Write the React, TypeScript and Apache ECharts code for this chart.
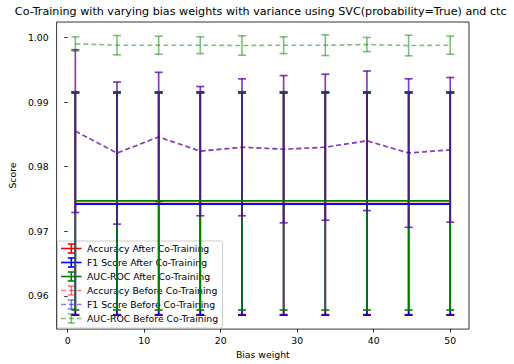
import React, { useEffect, useRef } from "react";
import * as echarts from "echarts";

const biasWeights = [1, 6.44, 11.89, 17.33, 22.78, 28.22, 33.67, 39.11, 44.56, 50];

const accuracyAfter = [0.9743, 0.9743, 0.9743, 0.9743, 0.9743, 0.9743, 0.9743, 0.9743, 0.9743, 0.9743];
const accuracyAfterErr = [0.0172, 0.0172, 0.0172, 0.0172, 0.0172, 0.0172, 0.0172, 0.0172, 0.0172, 0.0172];
const f1After = [0.9742, 0.9742, 0.9742, 0.9742, 0.9742, 0.9742, 0.9742, 0.9742, 0.9742, 0.9742];
const f1AfterErr = [0.0172, 0.0172, 0.0172, 0.0172, 0.0172, 0.0172, 0.0172, 0.0172, 0.0172, 0.0172];
const aucAfter = [0.9747, 0.9747, 0.9747, 0.9747, 0.9747, 0.9747, 0.9747, 0.9747, 0.9747, 0.9747];
const aucAfterErr = [0.0169, 0.0169, 0.0169, 0.0169, 0.0169, 0.0169, 0.0169, 0.0169, 0.0169, 0.0169];

const accuracyBefore = [0.9855, 0.9821, 0.9846, 0.9824, 0.983, 0.9827, 0.983, 0.984, 0.9821, 0.9826];
const accuracyBeforeErr = [0.0126, 0.011, 0.01, 0.01, 0.0106, 0.0114, 0.0113, 0.0108, 0.0115, 0.0112];
const f1Before = [0.9855, 0.9821, 0.9846, 0.9824, 0.983, 0.9827, 0.983, 0.984, 0.9821, 0.9826];
const f1BeforeErr = [0.0126, 0.011, 0.01, 0.01, 0.0106, 0.0114, 0.0113, 0.0108, 0.0115, 0.0112];
const aucBefore = [0.999, 0.9988, 0.9988, 0.9988, 0.99875, 0.9988, 0.9988, 0.9989, 0.99875, 0.9988];
const aucBeforeErr = [0.0011, 0.0015, 0.0014, 0.0013, 0.0015, 0.0013, 0.0016, 0.0011, 0.0016, 0.0014];

const xTicks = [0, 10, 20, 30, 40, 50];
const yTicks = [0.96, 0.97, 0.98, 0.99, 1.0];

const seriesNames = [
  "Accuracy After Co-Training",
  "F1 Score After Co-Training",
  "AUC-ROC After Co-Training",
  "Accuracy Before Co-Training",
  "F1 Score Before Co-Training",
  "AUC-ROC Before Co-Training",
];

const FONT = "DejaVu Sans";
const FS = 9.3;
const LW = 1.6;
const DASH = [5, 3];

type Spec = { name: string; means: number[]; errs: number[]; color: string; before: boolean };

const specs: Spec[] = [
  { name: seriesNames[0], means: accuracyAfter, errs: accuracyAfterErr, color: "#ff0000", before: false },
  { name: seriesNames[1], means: f1After, errs: f1AfterErr, color: "#0000ff", before: false },
  { name: seriesNames[2], means: aucAfter, errs: aucAfterErr, color: "#008000", before: false },
  { name: seriesNames[3], means: accuracyBefore, errs: accuracyBeforeErr, color: "#ff0000", before: true },
  { name: seriesNames[4], means: f1Before, errs: f1BeforeErr, color: "#0000ff", before: true },
  { name: seriesNames[5], means: aucBefore, errs: aucBeforeErr, color: "#008000", before: true },
];

function errorSeries(s: Spec) {
  const opacity = s.before ? 0.5 : 1;
  return {
    type: "custom",
    name: s.name + " err",
    silent: true,
    clip: false,
    z: 1,
    data: biasWeights.map((x, i) => [x, s.means[i] - s.errs[i], s.means[i] + s.errs[i]]),
    encode: { x: 0, y: [1, 2] },
    renderItem: (params: any, api: any) => {
      const x = api.value(0);
      const lo = api.coord([x, api.value(1)]);
      const hi = api.coord([x, api.value(2)]);
      const cw = 4;
      const style = { stroke: s.color, lineWidth: LW, fill: "none", opacity };
      return {
        type: "group",
        children: [
          { type: "line", shape: { x1: lo[0], y1: lo[1], x2: hi[0], y2: hi[1] }, style },
          { type: "line", shape: { x1: lo[0] - cw, y1: lo[1], x2: lo[0] + cw, y2: lo[1] }, style },
          { type: "line", shape: { x1: hi[0] - cw, y1: hi[1], x2: hi[0] + cw, y2: hi[1] }, style },
        ],
      };
    },
  };
}

function lineSeries(s: Spec) {
  return {
    type: "line",
    name: s.name,
    z: 2,
    symbol: "none",
    silent: true,
    data: biasWeights.map((x, i) => [x, s.means[i]]),
    lineStyle: {
      color: s.color,
      width: LW,
      type: s.before ? DASH : "solid",
      opacity: s.before ? 0.5 : 1,
    },
    itemStyle: { color: s.color },
  };
}

function legendGraphic() {
  const x0 = 57.5;
  const y0 = 241;
  const w = 165;
  const h = 87;
  const children: any[] = [
    {
      type: "rect",
      shape: { x: x0, y: y0, width: w, height: h, r: 2 },
      style: { fill: "rgba(255,255,255,0.8)", stroke: "#cccccc", lineWidth: 1 },
    },
  ];
  specs.forEach((s, i) => {
    const cy = 248.5 + i * 14;
    const opacity = s.before ? 0.5 : 1;
    const st = { stroke: s.color, lineWidth: LW, opacity, lineDash: s.before ? DASH : undefined };
    const stSolid = { stroke: s.color, lineWidth: LW, opacity };
    const hx1 = 61;
    const hx2 = 81.5;
    const mx = 71.3;
    children.push(
      { type: "line", shape: { x1: hx1, y1: cy, x2: hx2, y2: cy }, style: st },
      { type: "line", shape: { x1: mx, y1: cy - 4.5, x2: mx, y2: cy + 4.5 }, style: stSolid },
      { type: "line", shape: { x1: mx - 3.5, y1: cy - 4.5, x2: mx + 3.5, y2: cy - 4.5 }, style: stSolid },
      { type: "line", shape: { x1: mx - 3.5, y1: cy + 4.5, x2: mx + 3.5, y2: cy + 4.5 }, style: stSolid },
      {
        type: "text",
        x: 87,
        y: cy,
        style: {
          text: s.name,
          fill: "#000",
          font: `${FS}px "${FONT}"`,
          textVerticalAlign: "middle",
          textAlign: "left",
        },
      }
    );
  });
  return { type: "group", z: 100, children };
}

export default function App() {
  const ref = useRef<HTMLDivElement>(null);
  useEffect(() => {
    if (!ref.current) return;
    const chart = echarts.init(ref.current, undefined, { renderer: "svg" });
    const errs = specs.map((s) => errorSeries(s));
    const lines = specs.map((s) => lineSeries(s));
    chart.setOption({
      animation: false,
      backgroundColor: "#ffffff",
      textStyle: { fontFamily: FONT },
      grid: {
        left: 52.5,
        right: 45,
        top: 22,
        bottom: 32,
        show: true,
        borderColor: "#000",
        borderWidth: 0.8,
        backgroundColor: "transparent",
        containLabel: false,
      },
      xAxis: {
        type: "value",
        min: -1.45,
        max: 52.45,
        name: "Bias weight",
        nameLocation: "middle",
        nameGap: 18,
        nameTextStyle: { fontFamily: FONT, fontSize: FS, color: "#000" },
        axisLine: { show: false },
        axisTick: { show: true, length: 3.5, inside: false, lineStyle: { color: "#000", width: 0.8 }, customValues: xTicks },
        axisLabel: {
          fontFamily: FONT,
          fontSize: FS,
          color: "#000",
          margin: 7,
          customValues: xTicks,
          formatter: (v: number) => String(v),
        },
        splitLine: { show: false },
      },
      yAxis: {
        type: "value",
        min: 0.95485,
        max: 1.00239,
        name: "Score",
        nameLocation: "middle",
        nameGap: 33,
        nameTextStyle: { fontFamily: FONT, fontSize: FS, color: "#000" },
        axisLine: { show: false },
        axisTick: { show: true, length: 3.5, inside: false, lineStyle: { color: "#000", width: 0.8 }, customValues: yTicks },
        axisLabel: {
          fontFamily: FONT,
          fontSize: FS,
          color: "#000",
          margin: 8,
          customValues: yTicks,
          formatter: (v: number) => v.toFixed(2),
        },
        splitLine: { show: false },
      },
      graphic: [
        {
          type: "text",
          x: 260.7,
          y: 11,
          style: {
            text: "Co-Training with varying bias weights with variance using SVC(probability=True) and ctc",
            fill: "#000",
            font: `11.15px "${FONT}"`,
            textAlign: "center",
            textVerticalAlign: "middle",
          },
        },
        legendGraphic(),
      ],
      series: [...errs, ...lines],
    });
    return () => chart.dispose();
  }, []);
  return (
    <div
      ref={ref}
      style={{ position: "fixed", left: 0, top: 0, width: 514, height: 364, background: "#fff" }}
    />
  );
}
